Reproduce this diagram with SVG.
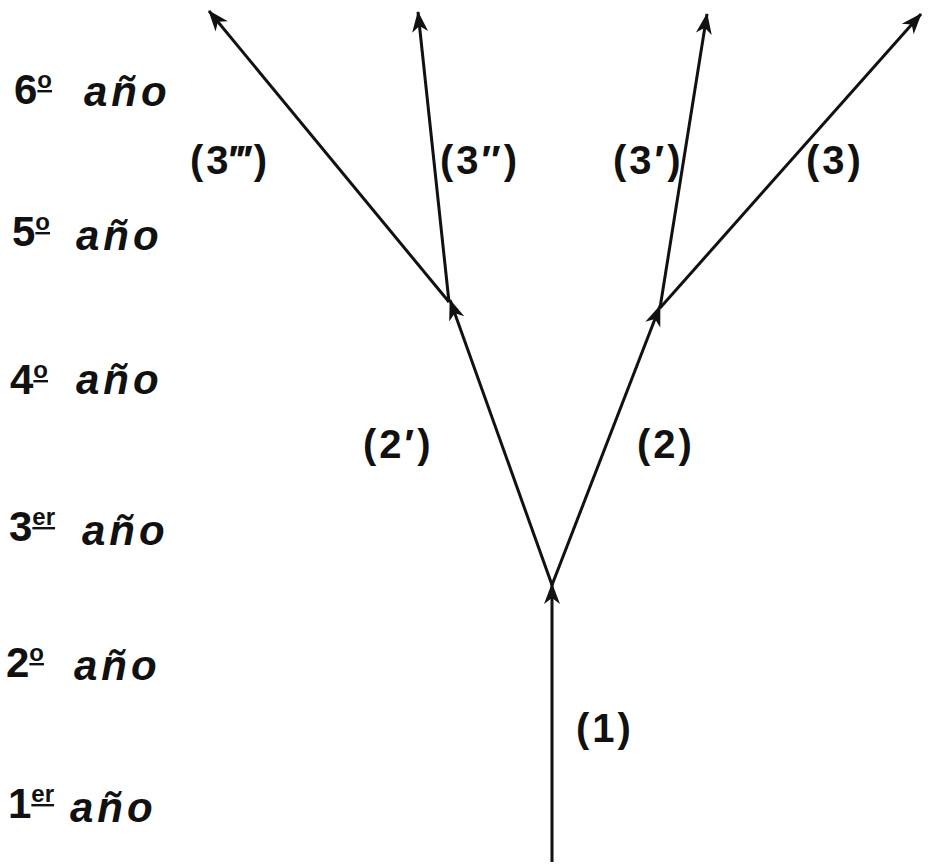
<svg xmlns="http://www.w3.org/2000/svg" width="928" height="866" viewBox="0 0 928 866">
<style>
.bg{fill:#ffffff}
.yr{font-family:"Liberation Sans","DejaVu Sans",sans-serif;font-size:42px;font-weight:bold;fill:#111}
.ano{font-style:italic;letter-spacing:4px}
.sup{font-size:24px;text-decoration:underline}
.lbl{font-family:"Liberation Sans","DejaVu Sans",sans-serif;font-size:40px;font-weight:bold;fill:#111;letter-spacing:3px}
.ln{stroke:#111;stroke-width:3;fill:none;marker-end:url(#ah)}
</style>
<defs>
<marker id="ah" markerUnits="userSpaceOnUse" markerWidth="22" markerHeight="18" viewBox="0 0 22 18" refX="20" refY="9" orient="auto">
<path d="M0,1 L21,9 L0,17 L6,9 Z" fill="#111"/>
</marker>
</defs>
<rect class="bg" x="0" y="0" width="928" height="866"/>
<g id="connectors">
<line class="ln" x1="552" y1="862" x2="552" y2="584"/>
<line class="ln" x1="552" y1="585" x2="450" y2="300"/>
<line class="ln" x1="552" y1="585" x2="660" y2="306"/>
<line class="ln" x1="449" y1="302" x2="209" y2="11"/>
<line class="ln" x1="449" y1="302" x2="418" y2="12"/>
<line class="ln" x1="660" y1="308" x2="707" y2="14"/>
<line class="ln" x1="660" y1="308" x2="921" y2="14"/>
</g>
<g id="year6"><text class="yr" x="14" y="104">6<tspan class="sup" dy="-16">o</tspan><tspan class="ano" x="84" dy="18">año</tspan></text></g>
<g id="year5"><text class="yr" x="12" y="246">5<tspan class="sup" dy="-16">o</tspan><tspan class="ano" x="76" dy="20">año</tspan></text></g>
<g id="year4"><text class="yr" x="10" y="394">4<tspan class="sup" dy="-16">o</tspan><tspan class="ano" x="76" dy="16">año</tspan></text></g>
<g id="year3"><text class="yr" x="9" y="541">3<tspan class="sup" dy="-16">er</tspan><tspan class="ano" x="82" dy="20">año</tspan></text></g>
<g id="year2"><text class="yr" x="6" y="677">2<tspan class="sup" dy="-16">o</tspan><tspan class="ano" x="74" dy="19">año</tspan></text></g>
<g id="year1"><text class="yr" x="8" y="818">1<tspan class="sup" dy="-16">er</tspan><tspan class="ano" x="70" dy="20">año</tspan></text></g>
<g id="b3ppp"><text class="lbl" x="190" y="174">(3‴)</text></g>
<g id="b3pp"><text class="lbl" x="440" y="174">(3″)</text></g>
<g id="b3p"><text class="lbl" x="613" y="174">(3′)</text></g>
<g id="b3"><text class="lbl" x="806" y="174">(3)</text></g>
<g id="b2p"><text class="lbl" x="363" y="458">(2′)</text></g>
<g id="b2"><text class="lbl" x="637" y="458">(2)</text></g>
<g id="b1"><text class="lbl" x="576" y="742">(1)</text></g>
</svg>
